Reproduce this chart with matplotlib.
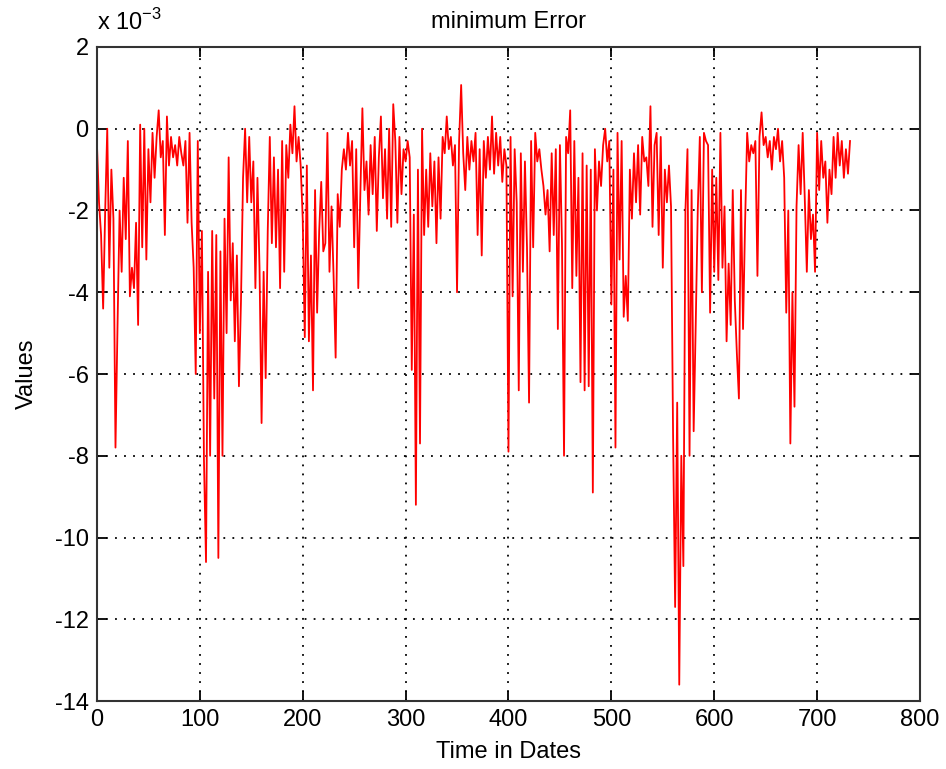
import numpy as np
import matplotlib
matplotlib.use('Agg')
import matplotlib.pyplot as plt

# minimum error, in units of 1e-3, one value every 2 days
days = list(range(0, 734, 2))
err = [
    -0.4, -1.8, -2.6, -4.4, -2.0,   0.0, -3.4, -1.0, -2.2, -7.8,
    -4.8, -2.0, -3.5, -1.2, -2.7,  -0.3, -4.1, -3.4, -3.9, -2.3,
    -4.8, 0.1, -2.9, 0.0, -3.2,    -0.5, -1.8, -0.1, -1.2, -0.2,
    0.45, -0.7, -0.3, -2.6, 0.3,   -0.9, -0.2, -0.7, -0.4, -0.9,
    -0.2, -0.6, -0.9, -0.3, -2.3,  -0.1, -2.3, -3.4, -6.0, -0.3,
    -5.0, -2.5, -8.1, -10.6, -3.5, -8.0, -2.5, -6.6, -2.6, -10.5,
    -3.0, -8.0, -2.2, -5.0, -0.7,  -4.2, -2.8, -5.2, -3.1, -6.3,
    -4.2, -1.2, 0.0, -1.8, -0.2,   -1.8, -0.8, -3.9, -1.2, -3.4,
    -7.2, -3.5, -6.1, -2.5, -0.2,  -2.8, -0.7, -2.9, -1.0, -3.9,
    -0.3, -3.5, -0.4, -1.2, 0.1,   -0.6, 0.55, -0.8, -0.2, -0.9,
    -2.2, -5.1, -0.9, -5.2, -3.1,  -6.4, -1.5, -4.5, -2.5, -1.3,
    -3.0, -2.8, -0.1, -3.5, -1.9,  -3.6, -5.6, -1.6, -2.4, -1.0,
    -0.5, -1.0, -0.1, -0.9, -0.3,  -2.9, -0.5, -3.9, -1.6, 0.5,
    -1.5, -0.8, -2.1, -0.4, -1.6,  -0.2, -2.5, -0.7, 0.3, -1.7,
    -0.5, -2.2, 0.0, -2.4, 0.6,    -0.3, -2.3, -0.2, -1.6, -0.5,
    -0.8, -0.3, -0.7, -5.9, -2.1,  -9.2, -1.0, -7.7, 0.0, -2.6,
    -1.0, -2.4, -0.6, -1.9, -0.8,  -2.8, -0.7, -2.2, -0.2, -0.6,
    0.3, -0.5, -0.2, -0.9, -0.4,   -4.0, -0.3, 1.07, -0.6, -1.5,
    -0.2, -1.0, -0.3, -0.8, -0.1,  -2.6, -0.5, -3.1, -0.3, -1.2,
    -0.2, -1.0, 0.3, -1.1, -0.1,   -0.9, -0.2, -1.3, -0.5, -0.9,
    -7.9, -0.2, -4.1, -0.5, -1.8,  -6.4, -0.6, -3.5, -0.8, -2.9,
    -6.7, -0.3, -2.9, -0.1, -0.8,  -0.5, -1.0, -1.4, -2.1, -1.5,
    -3.0, -0.6, -2.6, -0.5, -4.9,  -0.4, -2.8, -8.0, -0.2, -0.6,
    0.45, -3.9, -0.3, -3.6, -1.2,  -6.2, -0.6, -6.4, -0.9, -6.3,
    -1.0, -8.9, -0.5, -2.0, -0.8,  -1.4, -0.4, 0.0, -0.8, -0.3,
    -4.3, -1.0, -7.8, -0.1, -3.2,  -0.3, -4.6, -3.6, -4.7, -1.0,
    -2.2, -0.6, -1.8, -0.4, -2.1,  -0.2, -0.8, -0.7, -1.4, 0.55,
    -2.4, -0.4, -0.1, -2.6, -0.2,  -3.4, -1.0, -1.8, -0.9, -1.9,
    -7.5, -11.7, -6.7, -13.6, -8.0, -10.7, -2.0, -0.5, -8.0, -1.5,
    -7.4, -4.8, -2.0, -0.2, -4.0,  -0.1, -0.3, -0.4, -4.5, -1.0,
    -3.5, -1.2, -3.7, -0.1, -3.4,  -1.9, -5.2, -3.3, -4.8, -1.5,
    -4.2, -5.5, -6.6, -1.5, -4.9,  -2.3, -0.1, -0.8, -0.4, -0.6,
    -0.3, -3.6, -0.2, 0.4, -0.4,   -0.2, -0.7, -0.3, -1.0, -0.2,
    -0.5, 0.0, -0.8, -0.3, -1.2,   -4.5, -2.0, -7.7, -4.0, -6.8,
    -1.9, -0.4, -1.6, -0.1, -1.7,  -3.5, -1.5, -2.7, -2.1, -3.5,
    -0.1, -1.5, -0.3, -1.2, -0.8,  -2.3, -1.0, -1.6, -0.2, -1.2,
    -0.1, -0.9, -0.3, -1.2, -0.5,  -1.1, -0.3,
]

xticks = [0, 100, 200, 300, 400, 500, 600, 700, 800]
yticks = [2, 0, -2, -4, -6, -8, -10, -12, -14]

plt.rcParams['font.family'] = ['Liberation Sans', 'DejaVu Sans']
plt.rcParams['axes.unicode_minus'] = False

fig = plt.figure(figsize=(9.46, 7.69), dpi=100)
ax = fig.add_axes([0.1025, 0.0884, 0.87, 0.8505])

ax.plot(days, err, color='red', lw=1.3)

ax.set_xlim(0, 800)
ax.set_ylim(-14, 2)
ax.set_xticks(xticks)
ax.set_yticks(yticks)
ax.grid(True, color='black', linestyle=(0, (1, 4)), lw=1.3)

# matlab style box with inward ticks on every side
for s in ax.spines.values():
    s.set_color('#333333')
    s.set_linewidth(1.5)
ax.tick_params(direction='in', length=7, width=1.3, top=True, right=True,
               labelsize=17, pad=6)

ax.set_title('minimum Error', fontsize=17, pad=14)
ax.set_xlabel('Time in Dates', fontsize=17, labelpad=7)
ax.set_ylabel('Values', fontsize=17, labelpad=12)
ax.text(0.0, 1.018, r'x 10$^{\mathregular{-3}}$', transform=ax.transAxes,
        fontsize=17, ha='left', va='bottom')

plt.savefig('out.png', dpi=100)
